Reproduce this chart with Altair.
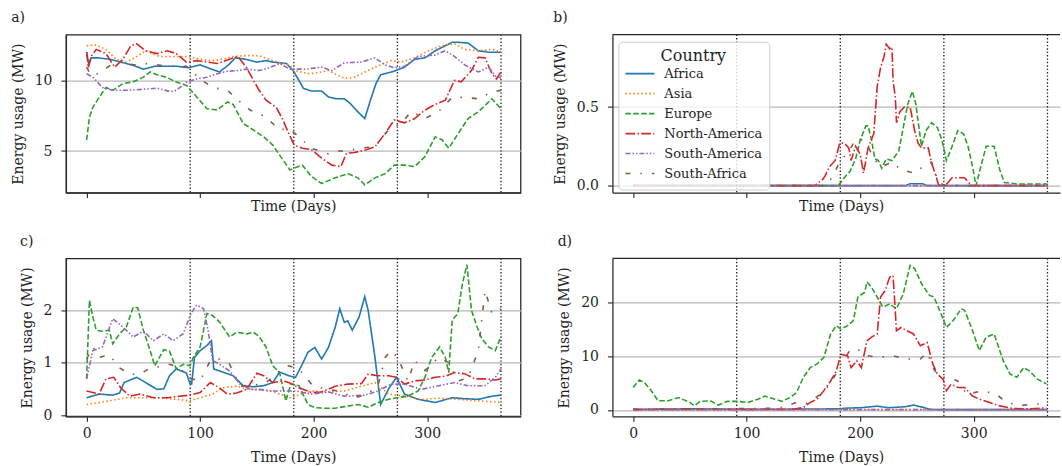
import altair as alt
import pandas as pd

F = "DejaVu Serif"
COUNTRIES = ["Africa", "Asia", "Europe", "North-America", "South-America", "South-Africa"]
COLORS = ["#1f77b4", "#ff7f0e", "#2ca02c", "#d62728", "#9467bd", "#8c564b"]
DASHES = [[1, 0], [1.5, 2.5], [5.5, 2.4], [9.6, 2.4, 1.5, 2.4], [5, 2, 1.5, 2, 1.5, 2], [5, 10, 1.5, 10]]
SEASONS = [91.25, 182.5, 273.75, 365]
XTICKS = [0, 100, 200, 300]

# ---------------- panel a ----------------
A_AFR_D = [0, 2, 4, 10, 20, 30, 40, 50, 60, 70, 80, 90, 100, 110, 117, 125, 131, 140, 150, 158, 164, 170, 176, 182, 187, 191, 198, 207, 213, 220, 227, 232, 239, 245, 250, 255, 259, 264, 271, 280, 289, 298, 307, 316, 322, 327, 336, 345, 354, 360, 365]
A_AFR_V = [12.0, 11.1, 11.6, 11.6, 11.5, 11.3, 11.1, 10.8, 11.0, 11.0, 11.0, 10.9, 11.1, 10.8, 10.6, 11.1, 11.6, 11.5, 11.3, 11.4, 11.3, 11.25, 11.2, 10.7, 10.0, 9.44, 9.25, 9.25, 8.83, 8.7, 8.7, 8.38, 7.77, 7.3, 8.6, 9.8, 10.4, 10.5, 10.66, 10.94, 11.5, 11.6, 12.1, 12.46, 12.7, 12.7, 12.65, 12.1, 12.0, 12.0, 12.0]
A_ASI_D = [0, 8, 17, 26, 35, 43, 52, 64, 76, 88, 100, 111, 120, 129, 141, 152, 164, 179, 183, 196, 207, 213, 220, 227, 235, 242, 254, 268, 277, 289, 301, 313, 324, 333, 345, 357, 365]
A_ASI_V = [12.46, 12.5, 12.2, 11.5, 11.3, 11.64, 12.1, 11.7, 11.7, 11.7, 11.5, 11.4, 11.5, 11.7, 11.76, 11.75, 11.4, 11.06, 10.7, 10.47, 10.6, 10.7, 10.4, 10.16, 10.2, 10.47, 10.94, 11.4, 11.3, 11.6, 12.1, 12.46, 12.6, 12.2, 12.1, 12.2, 12.0]
A_EUR_D = [0, 2.5, 5.5, 11, 17, 23, 32, 41, 50, 56, 62, 71, 79, 88, 97, 106, 115, 124, 129, 138, 147, 156, 164, 173, 179, 183, 190, 198, 207, 219, 230, 239, 245, 254, 263, 271, 280, 289, 298, 307, 313, 319, 327, 336, 345, 357, 365]
A_EUR_V = [5.77, 7.4, 8.1, 8.8, 9.5, 9.3, 9.77, 9.9, 10.23, 10.6, 10.4, 10.2, 9.88, 9.65, 8.83, 8.0, 7.9, 8.47, 8.3, 6.95, 6.48, 6.0, 5.42, 4.37, 3.66, 3.8, 4.0, 3.2, 2.7, 3.1, 3.4, 3.1, 2.6, 3.1, 3.4, 4.0, 4.0, 3.9, 4.6, 6.0, 5.8, 5.2, 6.2, 7.3, 7.77, 8.7, 8.0]
A_NAM_D = [0, 1.5, 4, 8.5, 17, 24.7, 32, 39, 44, 52, 62, 71, 79, 88, 97, 106, 115, 124, 133, 141, 147, 152, 158, 167, 173, 178, 183, 190, 198, 207, 216, 224, 229, 236, 245, 254, 263, 271, 280, 289, 298, 307, 316, 324, 330, 339, 345, 351, 357, 361, 365]
A_NAM_V = [12.0, 10.9, 11.7, 12.2, 11.9, 10.94, 11.5, 12.46, 12.6, 12.1, 11.9, 12.1, 11.9, 11.3, 11.4, 11.3, 11.2, 11.45, 11.7, 10.9, 10.0, 9.3, 8.6, 8.1, 7.2, 6.25, 5.4, 5.2, 5.1, 4.5, 4.0, 3.9, 4.85, 4.9, 5.06, 5.3, 6.25, 7.2, 7.0, 7.3, 7.9, 8.3, 8.6, 10.0, 9.9, 10.7, 11.64, 11.6, 10.47, 10.1, 10.6]
A_SAM_D = [0, 5.5, 14, 23, 35, 50, 62, 74, 79, 88, 97, 106, 115, 124, 133, 141, 152, 161, 170, 179, 193, 207, 216, 227, 242, 254, 263, 271, 280, 292, 307, 316, 324, 333, 345, 354, 361, 365]
A_SAM_V = [10.47, 10.23, 9.5, 9.3, 9.3, 9.37, 9.45, 9.2, 9.3, 9.88, 10.1, 10.23, 10.47, 10.65, 10.7, 10.8, 10.7, 10.9, 11.2, 10.8, 10.8, 10.94, 10.7, 11.25, 11.3, 11.6, 11.1, 10.9, 11.0, 11.7, 11.8, 12.1, 11.7, 11.1, 10.6, 10.94, 10.23, 10.2]
A_SAF_D = [0, 4, 11, 23, 29, 41, 55, 70, 88, 100, 111, 124, 135, 144, 156, 164, 170, 178, 187, 198, 213, 222, 230, 239, 254, 266, 277, 286, 298, 310, 322, 333, 345, 357, 365]
A_SAF_V = [10.94, 10.35, 10.5, 11.2, 11.3, 11.1, 11.2, 11.0, 11.0, 10.1, 9.5, 9.3, 8.5, 7.9, 7.5, 6.95, 6.5, 6.6, 6.0, 5.2, 4.8, 5.0, 5.0, 5.2, 5.3, 6.5, 6.95, 7.8, 7.3, 7.8, 8.8, 8.8, 8.7, 9.18, 9.3]

# ---------------- panel b ----------------
B_AFR_D = [0, 240, 244, 255, 259, 365]
B_AFR_V = [0, 0, 0.012, 0.012, 0, 0]
B_ASI_D = [0, 365]
B_ASI_V = [0, 0]
B_EUR_D = [0, 170, 178, 182, 186, 191, 196, 200, 205, 207, 210, 213, 216, 219, 223, 228, 234, 238, 242, 246, 249, 254, 258, 263, 268, 272, 276, 281, 286, 291, 295, 299, 302, 307, 311, 318, 323, 327, 339, 354, 365]
B_EUR_V = [0, 0, 0.0, 0.01, 0.05, 0.09, 0.17, 0.29, 0.38, 0.38, 0.29, 0.17, 0.16, 0.11, 0.17, 0.16, 0.22, 0.37, 0.52, 0.6, 0.52, 0.25, 0.35, 0.4, 0.37, 0.29, 0.16, 0.25, 0.35, 0.33, 0.25, 0.12, 0.0, 0.14, 0.25, 0.25, 0.1, 0.02, 0.01, 0.01, 0.01]
B_NAM_D = [0, 160, 167, 169, 173, 178, 182, 186, 190, 192, 196, 200, 203, 207, 212, 215, 218, 221, 223, 226, 228, 229, 231, 232, 235, 239, 244, 248, 251, 254, 260, 263, 266, 269, 275, 281, 292, 298, 365]
B_NAM_V = [0, 0, 0.04, 0.06, 0.12, 0.16, 0.27, 0.27, 0.24, 0.16, 0.25, 0.2, 0.08, 0.24, 0.33, 0.63, 0.75, 0.82, 0.9, 0.87, 0.88, 0.67, 0.56, 0.4, 0.47, 0.5, 0.5, 0.35, 0.27, 0.24, 0.24, 0.14, 0.08, 0.005, 0, 0.05, 0.05, 0, 0]
B_SAM_D = [0, 365]
B_SAM_V = [0, 0]
B_SAF_D = [0, 170, 175, 182, 190, 195, 200, 207, 212, 219, 228, 236, 248, 257, 263, 269, 275, 365]
B_SAF_V = [0, 0, 0.05, 0.15, 0.22, 0.28, 0.3, 0.25, 0.17, 0.12, 0.15, 0.1, 0.08, 0.13, 0.15, 0.02, 0, 0]

# ---------------- panel c ----------------
C_AFR_D = [0, 11, 23, 29, 33, 44, 52, 62, 68, 73, 79, 88, 91, 92.5, 95, 100, 106, 110, 112, 120, 129, 138, 147, 156, 164, 170, 178, 184, 190, 195, 201, 207, 213, 219, 223, 227, 230, 234, 240, 245, 248, 254, 259, 266, 273, 280, 292, 307, 322, 333, 345, 357, 365]
C_AFR_V = [0.33, 0.4, 0.38, 0.42, 0.62, 0.72, 0.62, 0.49, 0.5, 0.75, 0.88, 0.8, 0.6, 0.59, 1.1, 1.23, 1.33, 1.42, 0.88, 0.82, 0.75, 0.56, 0.54, 0.56, 0.62, 0.82, 0.75, 0.72, 0.97, 1.2, 1.29, 1.07, 1.29, 1.68, 2.03, 1.77, 1.8, 1.62, 1.87, 2.26, 2.0, 1.1, 0.2, 0.5, 0.72, 0.4, 0.3, 0.24, 0.33, 0.31, 0.3, 0.36, 0.38]
C_ASI_D = [0, 20, 35, 50, 64, 79, 91, 100, 111, 120, 132, 141, 152, 164, 179, 198, 213, 227, 242, 254, 266, 280, 295, 310, 327, 345, 365]
C_ASI_V = [0.2, 0.27, 0.33, 0.33, 0.33, 0.3, 0.27, 0.33, 0.4, 0.52, 0.55, 0.5, 0.48, 0.45, 0.33, 0.46, 0.44, 0.46, 0.55, 0.62, 0.4, 0.36, 0.3, 0.32, 0.3, 0.27, 0.24]
C_EUR_D = [0, 2.5, 5.5, 8.5, 14, 20, 23, 29, 35, 41, 45, 50, 56, 60, 68, 73, 79, 85, 91, 94, 100, 106, 111, 117, 126, 132, 141, 147, 152, 158, 164, 170, 175.5, 180, 187, 195, 201, 210, 219, 227, 239, 248, 257, 266, 273, 283, 292, 298, 304, 311, 316, 319, 322, 327, 331, 335, 339, 344, 348, 354, 360, 365]
C_EUR_V = [0.69, 2.19, 1.87, 1.62, 1.6, 1.62, 1.36, 1.55, 1.68, 2.06, 2.05, 1.62, 1.23, 0.94, 1.25, 1.22, 0.88, 0.97, 0.94, 1.1, 1.3, 1.94, 1.9, 1.78, 1.49, 1.58, 1.55, 1.58, 1.5, 1.3, 0.94, 0.81, 0.27, 0.6, 0.56, 0.2, 0.14, 0.13, 0.13, 0.16, 0.2, 0.15, 0.24, 0.3, 0.33, 0.36, 0.46, 0.72, 1.1, 1.3, 1.1, 0.81, 1.81, 1.94, 2.51, 2.87, 2.0, 1.68, 1.46, 1.3, 1.23, 1.5]
C_NAM_D = [0, 11, 17, 24, 30, 38, 47, 59, 71, 82, 91, 100, 109, 117, 124, 132, 141, 150, 156, 164, 173, 178, 187, 198, 207, 219, 230, 242, 248, 257, 266, 273, 280, 289, 298, 307, 316, 324, 333, 342, 351, 360, 365]
C_NAM_V = [0.46, 0.4, 0.69, 0.72, 0.52, 0.36, 0.4, 0.33, 0.33, 0.36, 0.38, 0.43, 0.62, 0.52, 0.4, 0.42, 0.49, 0.8, 0.75, 0.62, 0.65, 0.62, 0.52, 0.43, 0.44, 0.55, 0.59, 0.6, 0.78, 0.75, 0.75, 0.72, 0.59, 0.65, 0.67, 0.72, 0.74, 0.81, 0.79, 0.69, 0.69, 0.67, 0.69]
C_SAM_D = [0, 5.5, 14, 23, 32, 41, 50, 59, 68, 76, 85, 92, 97, 103, 107, 111, 117, 126, 135, 144, 152, 164, 179, 184, 198, 213, 227, 245, 257, 268, 280, 295, 310, 324, 336, 351, 360, 365]
C_SAM_V = [0.69, 1.23, 1.3, 1.84, 1.68, 1.49, 1.6, 1.42, 1.55, 1.42, 1.55, 1.94, 2.1, 2.03, 1.62, 1.04, 0.97, 0.84, 0.59, 0.49, 0.49, 0.46, 0.46, 0.46, 0.4, 0.44, 0.36, 0.38, 0.46, 0.59, 0.59, 0.49, 0.56, 0.62, 0.56, 0.56, 0.72, 0.88]
C_SAF_D = [0, 5.5, 11, 20, 29, 38, 47, 56, 64, 73, 82, 91, 100, 109, 117, 126, 135, 144, 156, 164, 173, 178, 187, 198, 210, 222, 236, 248, 257, 263, 268, 274, 283, 289, 298, 310, 319, 327, 336, 345, 351, 357, 365]
C_SAF_V = [1.07, 1.3, 1.1, 1.15, 0.9, 0.78, 0.78, 0.9, 0.92, 0.97, 0.9, 0.7, 0.65, 1.04, 1.07, 0.97, 0.55, 0.57, 0.59, 0.72, 0.9, 0.94, 0.88, 0.59, 0.49, 0.46, 0.33, 0.4, 0.59, 1.1, 1.23, 1.1, 0.65, 1.04, 0.85, 1.1, 1.0, 0.65, 0.71, 1.23, 2.38, 1.94, 2.03]

# ---------------- panel d ----------------
D_AFR_D = [0, 50, 100, 150, 180, 190, 200, 215, 225, 240, 247, 255, 262, 270, 365]
D_AFR_V = [0.1, 0.2, 0.1, 0.15, 0.2, 0.35, 0.4, 0.7, 0.4, 0.6, 0.9, 0.5, 0.1, 0.05, 0.05]
D_ASI_D = [0, 365]
D_ASI_V = [0.05, 0.05]
D_EUR_D = [0, 5.5, 10, 16, 22, 31, 40, 50, 54, 59, 68, 75, 83, 92, 101, 110, 116, 125, 131, 138, 144, 150, 156, 162, 168, 174, 179, 183, 189, 194, 198, 204, 206, 210, 215, 220, 226, 232, 238, 244, 248, 254, 261, 265, 270, 276, 282, 289, 292, 298, 305, 311, 318, 326, 332, 338, 344, 349, 356, 364]
D_EUR_V = [4.2, 5.6, 5.1, 3.6, 1.7, 1.7, 2.3, 1.4, 0.75, 1.6, 1.7, 0.9, 1.6, 1.6, 1.4, 2.0, 2.6, 2.0, 1.6, 2.3, 3.25, 6.1, 7.9, 8.6, 9.8, 14.2, 15.75, 15.1, 15.75, 16.7, 21.1, 22.0, 23.9, 22.9, 21.1, 19.2, 19.8, 18.9, 21.7, 27.0, 26.4, 23.6, 21.4, 21.1, 18.6, 15.4, 16.7, 18.9, 18.6, 15.4, 11.1, 13.6, 14.2, 9.2, 6.7, 6.1, 7.9, 7.3, 5.75, 4.9]
D_NAM_D = [0, 50, 100, 141, 150, 156, 162, 168, 174, 179, 183, 189, 192, 197, 201, 206, 210, 215, 218, 222, 226, 229, 232, 236, 241, 247, 253, 259, 264, 268, 273, 276, 280, 286, 292, 299, 305, 314, 323, 335, 350, 364]
D_NAM_V = [0.05, 0.1, 0.1, 0.1, 0.45, 1.4, 2.0, 3.6, 5.4, 7.3, 10.4, 10.1, 7.9, 9.2, 7.9, 12.9, 13.6, 14.2, 21.1, 22.3, 24.8, 25.1, 14.8, 15.4, 14.8, 14.2, 12.0, 12.6, 8.6, 6.7, 5.75, 3.6, 4.8, 4.2, 4.2, 2.6, 2.0, 1.4, 0.75, 0.25, 0.2, 0.4]
D_SAM_D = [0, 365]
D_SAM_V = [0.05, 0.05]
D_SAF_D = [0, 40, 80, 120, 130, 144, 153, 165, 171, 177, 183, 192, 201, 207, 216, 229, 241, 253, 259, 265, 270, 277, 286, 294, 308, 320, 329, 341, 353, 364]
D_SAF_V = [0.1, 0.2, 0.2, 0.3, 0.4, 1.4, 1.2, 2.9, 4.2, 6.1, 8.6, 11.4, 11.1, 10.1, 9.8, 10.1, 9.5, 9.5, 10.75, 7.6, 6.1, 6.1, 5.4, 2.9, 3.6, 2.9, 1.4, 0.8, 1.1, 1.1]


def series_df(pairs):
    rows = []
    for country, (d, v) in zip(COUNTRIES, pairs):
        for di, vi in zip(d, v):
            rows.append({"day": di, "value": vi, "country": country})
    return pd.DataFrame(rows)


DF_A = series_df([(A_AFR_D, A_AFR_V), (A_ASI_D, A_ASI_V), (A_EUR_D, A_EUR_V), (A_NAM_D, A_NAM_V), (A_SAM_D, A_SAM_V), (A_SAF_D, A_SAF_V)])
DF_B = series_df([(B_AFR_D, B_AFR_V), (B_ASI_D, B_ASI_V), (B_EUR_D, B_EUR_V), (B_NAM_D, B_NAM_V), (B_SAM_D, B_SAM_V), (B_SAF_D, B_SAF_V)])
DF_C = series_df([(C_AFR_D, C_AFR_V), (C_ASI_D, C_ASI_V), (C_EUR_D, C_EUR_V), (C_NAM_D, C_NAM_V), (C_SAM_D, C_SAM_V), (C_SAF_D, C_SAF_V)])
DF_D = series_df([(D_AFR_D, D_AFR_V), (D_ASI_D, D_ASI_V), (D_EUR_D, D_EUR_V), (D_NAM_D, D_NAM_V), (D_SAM_D, D_SAM_V), (D_SAF_D, D_SAF_V)])
SEASON_DF = pd.DataFrame({"day": SEASONS})

FRAME = "#262626"
TEXT = "#1e1e1e"
H = 158

LEG = alt.Legend(
    title="Country", orient="none", legendX=553, legendY=7,
    symbolType="stroke", symbolSize=841, symbolStrokeWidth=1.6,
    clipHeight=20, rowPadding=0, labelOffset=9, padding=6,
    fillColor="rgba(255,255,255,0.8)", strokeColor="#cccccc", cornerRadius=4,
    titleAnchor="middle", titleFontSize=16, titleFont=F, titleFontWeight="normal",
    titleColor=TEXT, titlePadding=0, labelFontSize=13, labelFont=F, labelColor=TEXT,
)


def make_panel(df, label, xmax, width, ydom, yticks, yfmt, show_xlabels, open_right):
    xaxis_kw = dict(values=XTICKS, labels=show_xlabels, title="Time (Days)", grid=False,
                    labelPadding=5, titlePadding=(10 if show_xlabels else 1))
    if open_right:
        xaxis_kw["titleX"] = 229
    x = alt.X("day:Q", scale=alt.Scale(domain=[-18.2, xmax], nice=False, zero=False),
              axis=alt.Axis(**xaxis_kw))
    y = alt.Y("value:Q", scale=alt.Scale(domain=ydom, nice=False, zero=False),
              axis=alt.Axis(values=yticks, format=yfmt, grid=True, title="Energy usage (MW)",
                            labelPadding=9, titlePadding=9))
    rules = alt.Chart(SEASON_DF).mark_rule(color="#222222", strokeDash=[1.4, 2.0], strokeWidth=1.3).encode(x=x)
    lines = alt.Chart(df).mark_line(strokeWidth=1.6).encode(
        x=x,
        y=y,
        color=alt.Color("country:N", scale=alt.Scale(domain=COUNTRIES, range=COLORS), legend=LEG),
        strokeDash=alt.StrokeDash("country:N", scale=alt.Scale(domain=COUNTRIES, range=DASHES), legend=LEG),
    )
    layers = [rules, lines]
    props = dict(width=width, height=H,
                 title=alt.TitleParams(label, anchor="start", offset=9, fontSize=14, font=F,
                                       fontWeight="normal", color=TEXT))
    if open_right:
        top = alt.Chart(pd.DataFrame({"k": [0]})).mark_rule(color=FRAME, strokeWidth=1.25).encode(
            x=alt.value(0), x2=alt.value(width), y=alt.value(0))
        layers.append(top)
        props["view"] = alt.ViewBackground(stroke="transparent")
    return alt.layer(*layers).properties(**props)


WL = 455
WR = 448
XMAX_L = -18.2 + WL / 1.1364
XMAX_R = -18.2 + WR / 1.1364

pa = make_panel(DF_A, "a)", XMAX_L, WL, [2.06, 13.24], [5, 10], "d", False, False)
pb = make_panel(DF_B, "b)", XMAX_R, WR, [-0.044, 0.96], [0, 0.5], ".1f", False, True)
pc = make_panel(DF_C, "c)", XMAX_L, WL, [-0.025, 2.99], [0, 1, 2], "d", True, False)
pd_ = make_panel(DF_D, "d)", XMAX_R, WR, [-1.2, 28.3], [0, 10, 20], "d", True, True)

chart = alt.concat(pa, pb, pc, pd_, columns=2, spacing={"row": 66, "column": 92}, bounds="flush").properties(
    padding={"left": 10, "top": 9.5, "right": 0, "bottom": 0}
).configure_axis(
    labelFont=F, titleFont=F, labelFontSize=14, titleFontSize=14, titleFontWeight="normal",
    labelColor=TEXT, titleColor=TEXT, domainColor=FRAME, domainWidth=1.25,
    tickColor=FRAME, tickWidth=1.1, tickSize=5, gridColor="#b8b8b8", gridWidth=1.2,
).configure_view(stroke=FRAME, strokeWidth=1.25)

chart.save("out.html", embed_options={"renderer": "svg", "actions": False})
